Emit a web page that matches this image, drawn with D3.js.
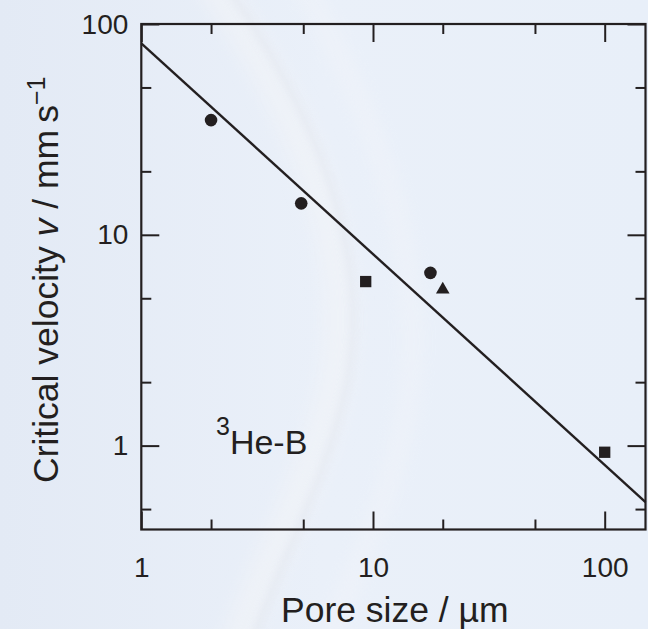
<!DOCTYPE html>
<html>
<head>
<meta charset="utf-8">
<script src="https://cdn.jsdelivr.net/npm/d3@7"></script>
<style>
  html, body { margin: 0; padding: 0; background: #e8eef8; }
  svg { display: block; }
  text { font-family: "Liberation Sans", Arial, Helvetica, sans-serif; fill: #231f20; white-space: pre; }
</style>
</head>
<body>
<svg id="chart" width="648" height="629"></svg>
<script>
// Critical velocity of superfluid 3He-B against pore size, log–log axes
const circleSizes = [2, 4.9, 17.7];
const circleVelocities = [35, 14.1, 6.6];
const squareSizes = [9.3, 100];
const squareVelocities = [6.0, 0.93];
const triangleSizes = [20];
const triangleVelocities = [5.5];
const fitSizes = [1, 150];
const fitVelocities = [81, 0.54];

const xDomain = [1, 150];
const yDomain = [0.4, 100];
const xMajorTicks = [1, 10, 100];
const xMinorTicks = [2, 5, 20, 50];
const yMajorTicks = [1, 10, 100];
const yMinorTicks = [0.5, 2, 5, 20, 50];
const xTitle = "Pore size / \u00b5m";
const sampleLabel = "He-B";

const ink = "#231f20";
const svg = d3.select("#chart");
const frame = { left: 141.3, right: 645.5, top: 24, bottom: 529.5 };

// soft background with a pale ribbon sweeping across
const defs = svg.append("defs");
const bg = defs.append("linearGradient").attr("id", "bg").attr("x1", 0).attr("y1", 0).attr("x2", 1).attr("y2", 0);
bg.append("stop").attr("offset", 0).attr("stop-color", "#e3eaf5");
bg.append("stop").attr("offset", 0.5).attr("stop-color", "#eaf0f9");
bg.append("stop").attr("offset", 1).attr("stop-color", "#e8eff9");
defs.append("filter").attr("id", "soft").attr("x", "-50%").attr("y", "-50%").attr("width", "200%").attr("height", "200%")
  .append("feGaussianBlur").attr("stdDeviation", 8);
defs.append("filter").attr("id", "softer").attr("x", "-50%").attr("y", "-50%").attr("width", "200%").attr("height", "200%")
  .append("feGaussianBlur").attr("stdDeviation", 4);

svg.append("rect").attr("width", 648).attr("height", 629).attr("fill", "url(#bg)");
const haze = svg.append("g");
haze.append("path")
  .attr("d", "M210,-20 C300,110 360,250 335,380 C315,480 265,560 235,650")
  .attr("fill", "none").attr("stroke", "#f3f4f7").attr("stroke-width", 34).attr("opacity", 0.5)
  .attr("filter", "url(#soft)");
haze.append("path")
  .attr("d", "M222,-20 C315,110 372,250 348,380 C328,480 280,560 250,650")
  .attr("fill", "none").attr("stroke", "#c9ced8").attr("stroke-width", 5).attr("opacity", 0.25)
  .attr("filter", "url(#softer)");
haze.append("path")
  .attr("d", "M300,-20 C390,140 430,290 405,420 C385,520 345,580 330,650")
  .attr("fill", "none").attr("stroke", "#f5f6f9").attr("stroke-width", 22).attr("opacity", 0.3)
  .attr("filter", "url(#soft)");

const x = d3.scaleLog().domain(xDomain).range([frame.left, frame.right]);
const y = d3.scaleLog().domain(yDomain).range([frame.bottom, frame.top]);

const fmt = d3.format("d");
const major = 18, minor = 10;

function styleAxis(g, labelled) {
  g.select(".domain").remove();
  g.selectAll(".tick line").attr("stroke", ink).attr("stroke-width", 2);
  if (labelled) {
    g.selectAll(".tick text").attr("fill", ink).attr("font-size", 28)
      .attr("font-family", "Liberation Sans, Arial, Helvetica, sans-serif");
  } else {
    g.selectAll(".tick text").remove();
  }
}

// bottom
svg.append("g").attr("transform", `translate(0,${frame.bottom})`)
  .call(d3.axisBottom(x).tickValues(xMajorTicks).tickFormat(fmt).tickSize(-major).tickPadding(27))
  .call(g => styleAxis(g, true))
  .call(g => g.selectAll(".tick text").attr("dy", null).attr("y", 577 - frame.bottom));
svg.append("g").attr("transform", `translate(0,${frame.bottom})`)
  .call(d3.axisBottom(x).tickValues(xMinorTicks).tickSize(-minor))
  .call(g => styleAxis(g, false));
// top
svg.append("g").attr("transform", `translate(0,${frame.top})`)
  .call(d3.axisTop(x).tickValues(xMajorTicks).tickSize(-major))
  .call(g => styleAxis(g, false));
svg.append("g").attr("transform", `translate(0,${frame.top})`)
  .call(d3.axisTop(x).tickValues(xMinorTicks).tickSize(-minor))
  .call(g => styleAxis(g, false));
// left
svg.append("g").attr("transform", `translate(${frame.left},0)`)
  .call(d3.axisLeft(y).tickValues(yMajorTicks).tickFormat(fmt).tickSize(-major).tickPadding(13))
  .call(g => styleAxis(g, true))
  .call(g => g.selectAll(".tick text").attr("dy", null).attr("y", 9));
svg.append("g").attr("transform", `translate(${frame.left},0)`)
  .call(d3.axisLeft(y).tickValues(yMinorTicks).tickSize(-minor))
  .call(g => styleAxis(g, false));
// right
svg.append("g").attr("transform", `translate(${frame.right},0)`)
  .call(d3.axisRight(y).tickValues(yMajorTicks).tickSize(-major))
  .call(g => styleAxis(g, false));
svg.append("g").attr("transform", `translate(${frame.right},0)`)
  .call(d3.axisRight(y).tickValues(yMinorTicks).tickSize(-minor))
  .call(g => styleAxis(g, false));

// plot frame
svg.append("rect")
  .attr("x", frame.left).attr("y", frame.top)
  .attr("width", frame.right - frame.left).attr("height", frame.bottom - frame.top)
  .attr("fill", "none").attr("stroke", ink).attr("stroke-width", 2.2);

// power-law fit, v ∝ 1/d
const fit = d3.zip(fitSizes, fitVelocities);
svg.append("path")
  .datum(fit)
  .attr("d", d3.line().x(d => x(d[0])).y(d => y(d[1])))
  .attr("fill", "none").attr("stroke", ink).attr("stroke-width", 2.4);

// measured points
function drawPoints(sizes, vels, type, area) {
  svg.append("g").selectAll("path")
    .data(d3.zip(sizes, vels))
    .join("path")
    .attr("transform", d => `translate(${x(d[0])},${y(d[1])})`)
    .attr("d", d3.symbol().type(type).size(area))
    .attr("fill", ink);
}
drawPoints(circleSizes, circleVelocities, d3.symbolCircle, 125);
drawPoints(squareSizes, squareVelocities, d3.symbolSquare, 128);
drawPoints(triangleSizes, triangleVelocities, d3.symbolTriangle, 80);

// axis titles
svg.append("text")
  .attr("x", 281).attr("y", 622)
  .attr("font-size", 35.5)
  .text(xTitle);

const yt = svg.append("text")
  .attr("transform", "rotate(-90)")
  .attr("x", -483).attr("y", 58)
  .attr("font-size", 35.5);
yt.append("tspan").text("Critical velocity ");
yt.append("tspan").attr("font-style", "italic").text("v");
yt.append("tspan").text(" / mm\u2009s");
yt.append("tspan").attr("font-size", 25).attr("dy", -13).text("\u22121");

// sample label
const lab = svg.append("text").attr("x", 216).attr("y", 454);
lab.append("tspan").attr("font-size", 25).attr("dy", -19).text("3");
lab.append("tspan").attr("font-size", 34).attr("dy", 19).text(sampleLabel);
</script>
</body>
</html>
